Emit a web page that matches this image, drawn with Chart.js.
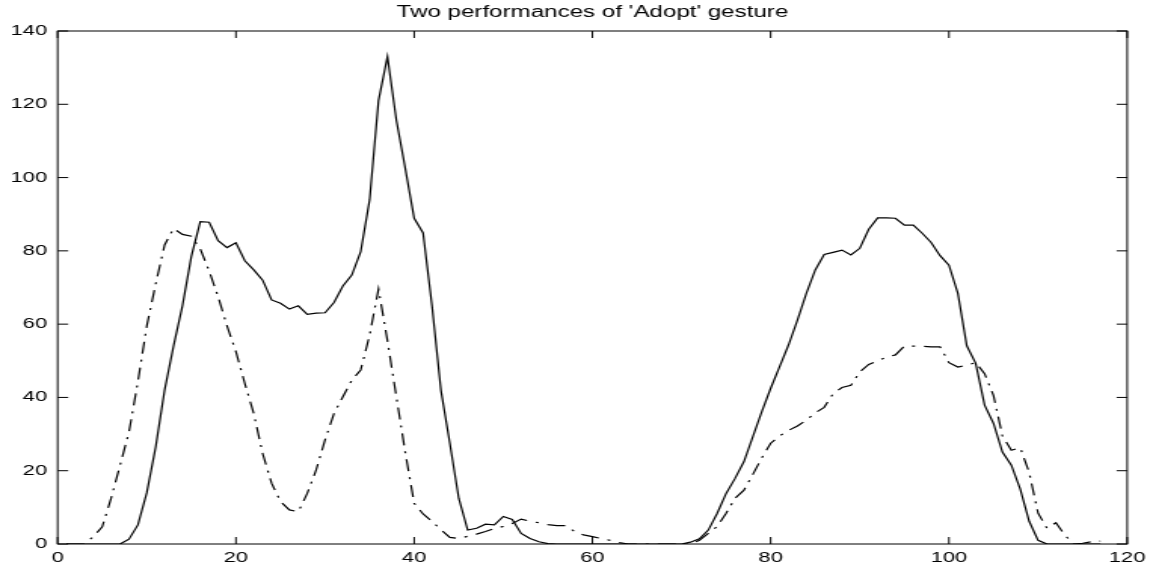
<!DOCTYPE html>
<html>
<head>
<meta charset="utf-8">
<title>Two performances of 'Adopt' gesture</title>
<script src="https://cdn.jsdelivr.net/npm/chart.js@4.4.1/dist/chart.umd.min.js"></script>
<style>
  html, body { margin: 0; padding: 0; background: #fff; }
  #grafico { display: block; }
</style>
</head>
<body>
<!-- the figure is drawn narrow and stretched sideways, like the original export -->
<canvas id="grafico" width="764" height="571" style="width:1153px;height:571px"></canvas>
<script>
// Primera ejecución del gesto (línea continua)
var ejecucion1 = [
  0, 0, 0, 0, 0, 0, 0, 1.3, 5.2, 14,
  26.5, 42, 54, 65, 78.5, 88, 87.8, 82.8, 80.9, 82.2,
  77.3, 74.8, 72, 66.6, 65.7, 64.1, 65, 62.7, 63, 63.1,
  65.9, 70.4, 73.4, 79.8, 93.9, 121, 133, 115.7, 102.5, 88.9,
  84.9, 65, 42, 27.5, 12.5, 3.8, 4.3, 5.4, 5.2, 7.5,
  6.7, 2.9, 1.5, 0.6, 0.1, 0, 0, 0, 0, 0,
  0, 0, 0, 0, 0, 0, 0, 0, 0, 0,
  0.5, 1.4, 3.8, 8.4, 13.8, 17.9, 22.5, 29.3, 36.1, 42.5,
  48.4, 54.3, 61.1, 68.4, 74.8, 79, 79.6, 80.2, 78.9, 80.7,
  85.9, 89, 89, 88.9, 87, 87, 84.8, 82.3, 78.7, 76.1,
  68.4, 54.1, 49.3, 37.9, 32.9, 25.1, 21.5, 15, 6.2, 1,
  0, 0, 0, 0, 0, 0, 0
];

// Segunda ejecución del gesto (línea punto-raya)
var ejecucion2 = [
  0, 0, 0, 2, 4.7, 12.5, 21.5, 30.5, 44.3, 59.5,
  71, 81.6, 86.1, 84.5, 84, 80.5, 74.5, 67.5, 59.5, 52.5,
  43.8, 35.6, 24.7, 16.6, 11.6, 9.3, 8.8, 13.8, 20.2, 28.4,
  35.6, 40.2, 44.7, 47.5, 57, 69.6, 55.5, 40.2, 25, 11.1,
  8.2, 6.2, 3.9, 1.8, 1.5, 2.1, 2.7, 3.4, 4.2, 4.8,
  5.6, 6.8, 6.2, 5.8, 5.3, 5, 5, 3.4, 2.5, 2,
  1.5, 1, 0.4, 0, 0, 0, 0, 0, 0, 0,
  0, 1, 2.9, 4.8, 8.4, 12.5, 14.7, 19, 23.5, 27.5,
  29.5, 31, 32.2, 33.8, 35.8, 37.3, 41, 42.7, 43.3, 47,
  49, 50, 51, 51.6, 54, 54, 54, 53.8, 53.8, 49.5,
  48.3, 48.8, 49.5, 46.5, 40.5, 29.5, 25.6, 26.3, 19.5, 8.4,
  4.3, 5.8, 2.4, 0, 0.2, 0.6, 0.8
];

// Número de muestra (1, 2, 3, ...)
var muestras = ejecucion1.map(function (v, i) { return i + 1; });

var titulo = "Two performances of 'Adopt' gesture";
var ticksX = [0, 20, 40, 60, 80, 100, 120];
var ticksY = [0, 20, 40, 60, 80, 100, 120, 140];

var fuente = "'Liberation Sans', Arial, Helvetica, sans-serif";

// Caja de ejes con marcas hacia dentro, como en MATLAB
var cajaEjes = {
  id: 'cajaEjes',
  afterDatasetsDraw: function (chart) {
    var ctx = chart.ctx;
    var a = chart.chartArea;
    var sx = chart.scales.x;
    var sy = chart.scales.y;
    var largo = 7;
    ctx.save();
    ctx.strokeStyle = '#000';
    ctx.lineWidth = 1;
    ctx.strokeRect(a.left, a.top, a.right - a.left, a.bottom - a.top);
    ctx.beginPath();
    sx.ticks.forEach(function (t) {
      var p = sx.getPixelForValue(t.value);
      ctx.moveTo(p, a.bottom); ctx.lineTo(p, a.bottom - largo);
      ctx.moveTo(p, a.top); ctx.lineTo(p, a.top + largo);
    });
    sy.ticks.forEach(function (t) {
      var p = sy.getPixelForValue(t.value);
      ctx.moveTo(a.left, p); ctx.lineTo(a.left + largo, p);
      ctx.moveTo(a.right, p); ctx.lineTo(a.right - largo, p);
    });
    ctx.stroke();
    ctx.restore();
  }
};

var ctx1 = document.getElementById('grafico').getContext('2d');
var grafico = new Chart(ctx1, {
  type: 'line',
  data: {
    labels: muestras,
    datasets: [{
      label: 'Ejecución 1',
      data: ejecucion1,
      borderColor: '#000',
      borderWidth: 1.2,
      pointRadius: 0,
      tension: 0,
      fill: false
    }, {
      label: 'Ejecución 2',
      data: ejecucion2,
      borderColor: '#000',
      borderWidth: 1.2,
      borderDash: [12, 6, 2, 6],
      pointRadius: 0,
      tension: 0,
      fill: false
    }]
  },
  options: {
    responsive: false,
    devicePixelRatio: 1,
    animation: false,
    layout: { padding: { left: 0, right: 17, top: 0, bottom: 0 } },
    plugins: {
      legend: { display: false },
      tooltip: { enabled: false },
      title: {
        display: true,
        text: titulo,
        fullSize: false,
        color: '#000',
        font: { family: fuente, size: 16, weight: 'normal' },
        padding: { top: 3, bottom: 8.8 }
      }
    },
    scales: {
      x: {
        type: 'linear',
        min: 0,
        max: 120,
        afterBuildTicks: function (s) { s.ticks = ticksX.map(function (v) { return { value: v }; }); },
        afterFit: function (s) { s.height = 27; },
        grid: { display: false, drawTicks: false },
        border: { display: false },
        ticks: {
          color: '#000',
          padding: 5,
          maxRotation: 0,
          font: { family: fuente, size: 14.5 }
        }
      },
      y: {
        min: 0,
        max: 140,
        afterBuildTicks: function (s) { s.ticks = ticksY.map(function (v) { return { value: v }; }); },
        afterFit: function (s) { s.width = 38.2; },
        grid: { display: false, drawTicks: false },
        border: { display: false },
        ticks: {
          color: '#000',
          padding: 7,
          font: { family: fuente, size: 14.5 }
        }
      }
    }
  },
  plugins: [cajaEjes]
});
</script>
</body>
</html>
